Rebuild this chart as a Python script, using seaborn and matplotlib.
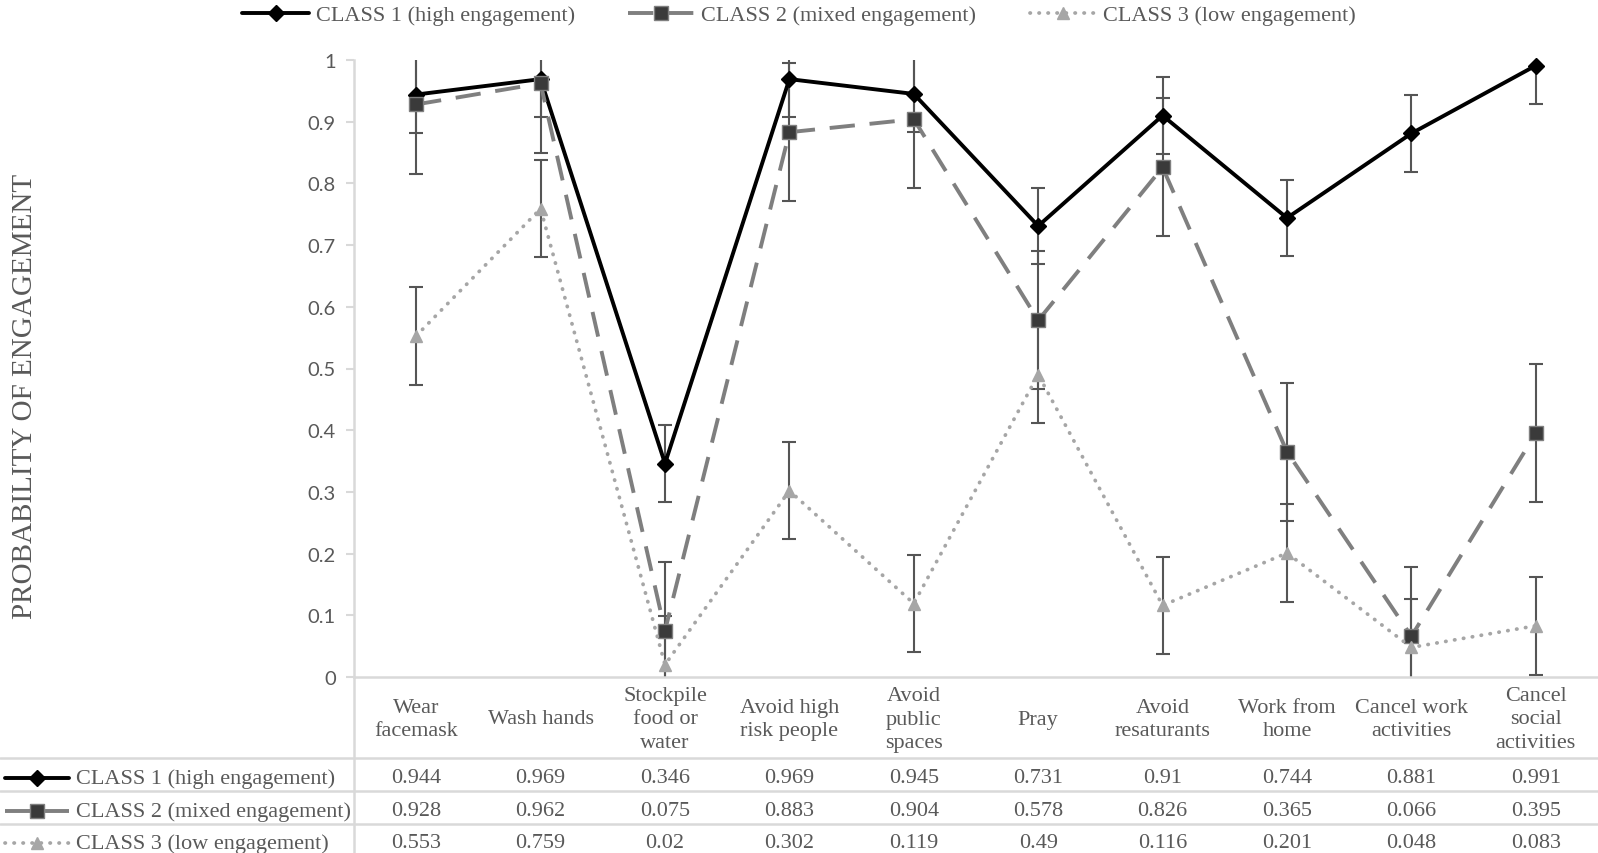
import numpy as np
import pandas as pd
import seaborn as sns
import matplotlib.pyplot as plt
from matplotlib.lines import Line2D
from matplotlib.transforms import blended_transform_factory

categories = ["Wear\nfacemask", "Wash hands", "Stockpile\nfood or\nwater", "Avoid high\nrisk people",
              "Avoid\npublic\nspaces", "Pray", "Avoid\nresaturants", "Work from\nhome",
              "Cancel work\nactivities", "Cancel\nsocial\nactivities"]
class1 = [0.944, 0.969, 0.346, 0.969, 0.945, 0.731, 0.91, 0.744, 0.881, 0.991]
class2 = [0.928, 0.962, 0.075, 0.883, 0.904, 0.578, 0.826, 0.365, 0.066, 0.395]
class3 = [0.553, 0.759, 0.02, 0.302, 0.119, 0.49, 0.116, 0.201, 0.048, 0.083]
# error bar half-widths (same for every point of a class)
err1 = 0.062
err2 = 0.112
err3 = 0.079
series_names = ["CLASS 1 (high engagement)", "CLASS 2 (mixed engagement)", "CLASS 3 (low engagement)"]

sns.set_style("white")
plt.rcParams["font.family"] = ["Liberation Serif", "DejaVu Serif"]

W, H = 1598, 854
fig = plt.figure(figsize=(W / 100, H / 100), dpi=100)
ax = fig.add_axes([354 / W, 1 - 678 / H, (W - 354) / W, (678 - 61) / H])

TXT = "#595959"
GRID = "#d9d9d9"
FS = 16
pos = np.arange(len(categories))

styles = [
    dict(color="black", lw=2.8, linestyle="-", marker="D", markersize=8,
         markerfacecolor="black", markeredgecolor="black"),
    dict(color="#7f7f7f", lw=2.8, linestyle=(0, (6.5, 3.8)), marker="s", markersize=10.5,
         markerfacecolor="#3a3a3a", markeredgecolor="#7f7f7f"),
    dict(color="#a6a6a6", lw=2.7, linestyle=(0, (0.1, 2.3)), marker="^", markersize=9,
         markerfacecolor="#a6a6a6", markeredgecolor="#a6a6a6", dash_capstyle="round"),
]
values = [class1, class2, class3]
errs = [err1, err2, err3]

for i, (vals, e, st) in enumerate(zip(values, errs, styles)):
    ax.errorbar(pos, vals, yerr=e, fmt="none", ecolor="#555555", elinewidth=1.5,
                capsize=5, capthick=1.5, zorder=2 + i * 0.1)
    df = pd.DataFrame({"x": pos, "y": vals})
    sns.lineplot(data=df, x="x", y="y", ax=ax, errorbar=None, markeredgewidth=1,
                 zorder=3 + i, clip_on=False, **st)

ax.set_xlim(-0.5, len(categories) - 0.5)
ax.set_ylim(0, 1)
ax.set_yticks(np.arange(0, 1.01, 0.1))
ax.set_yticklabels(["0"] + [f"{v:.1f}" for v in np.arange(0.1, 0.95, 0.1)] + ["1"],
                   family="Lato", fontsize=14.5, color=TXT)
ax.set_xticks([])
ax.set_xlabel("")
ax.set_ylabel("")
ax.tick_params(axis="y", length=6, width=1.5, color=GRID, pad=7, left=True)
for s in ["top", "right"]:
    ax.spines[s].set_visible(False)
for s in ["left", "bottom"]:
    ax.spines[s].set_color(GRID)
    ax.spines[s].set_linewidth(1.8)

fig.text(25 / W, 1 - 396 / H, "PROBABILITY OF ENGAGEMENT", rotation=90, ha="center", va="center",
         fontsize=21, color=TXT)

# data table below the plot
trans = blended_transform_factory(ax.transData, fig.transFigure)
for i, lab in enumerate(categories):
    ax.text(i, 1 - 720 / H, lab, transform=trans, ha="center", va="center", fontsize=FS,
            color=TXT, linespacing=1.3, clip_on=False)

row_y = [779, 812, 844]
for r, (vals, name, st) in enumerate(zip(values, series_names, styles)):
    y = 1 - row_y[r] / H
    for i, v in enumerate(vals):
        ax.text(i, y, f"{v:g}", transform=trans, ha="center", va="center", fontsize=FS,
                color=TXT, clip_on=False)
    fig.text(76 / W, y, name, ha="left", va="center", fontsize=FS, color=TXT)
    kw = {k: v for k, v in st.items() if k not in ("lw",)}
    fig.add_artist(Line2D([5 / W, 37 / W, 69 / W], [y, y, y], transform=fig.transFigure,
                          linewidth=st["lw"], markevery=[1], **kw))

for yp in [759, 792, 825]:
    fig.add_artist(Line2D([0, 1], [1 - yp / H, 1 - yp / H], transform=fig.transFigure,
                          color=GRID, lw=1.8))
fig.add_artist(Line2D([354 / W, 354 / W], [0, 1 - 678 / H], transform=fig.transFigure,
                      color=GRID, lw=1.8))

handles = []
for st in styles:
    kw = {k: v for k, v in st.items() if k not in ("lw",)}
    handles.append(Line2D([], [], linewidth=st["lw"], **kw))
fig.legend(handles, series_names, loc="center", bbox_to_anchor=(0.5, 1 - 16 / H), ncol=3,
           frameon=False, fontsize=FS, labelcolor=TXT, handlelength=3.0, handletextpad=0.3,
           columnspacing=2.4)

fig.savefig("out.png", dpi=100)
